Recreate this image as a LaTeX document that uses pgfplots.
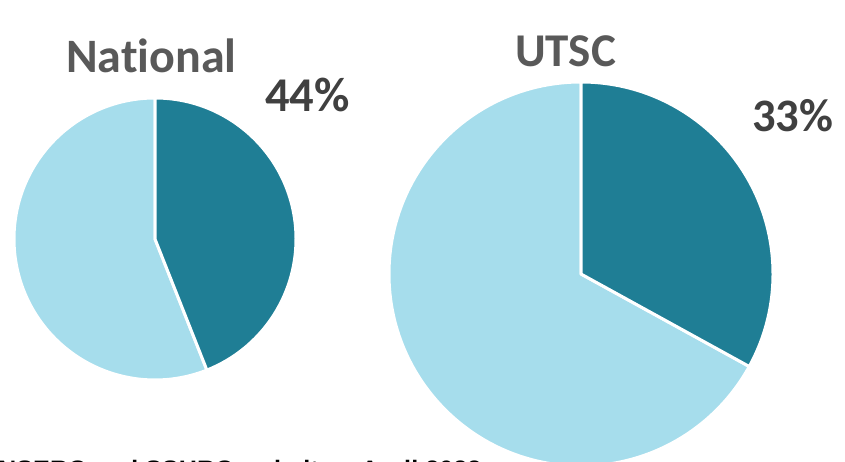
\documentclass[border=0pt]{standalone}
\usepackage{pgfplots}
\pgfplotsset{compat=1.18}
\usepackage{pgfplotstable}
\usepackage{fontspec}
\setmainfont{Carlito}[Ligatures=NoCommon]
\newfontfamily\arial{Liberation Sans}
\definecolor{tealdark}{HTML}{1F7E95}
\definecolor{lightblue}{HTML}{A6DDEC}
\definecolor{titlegray}{HTML}{595959}
\definecolor{pctgray}{HTML}{404040}

% share (%), centre x, centre y, radius (in picture units)
\pgfplotstableread{
name value cx cy r
National 44 155 223 141
UTSC 33 581 188 192
}\pies

\pgfplotstablegetelem{0}{value}\of\pies \let\vA\pgfplotsretval
\pgfplotstablegetelem{0}{cx}\of\pies \let\xA\pgfplotsretval
\pgfplotstablegetelem{0}{cy}\of\pies \let\yA\pgfplotsretval
\pgfplotstablegetelem{0}{r}\of\pies \let\rA\pgfplotsretval
\pgfplotstablegetelem{1}{value}\of\pies \let\vB\pgfplotsretval
\pgfplotstablegetelem{1}{cx}\of\pies \let\xB\pgfplotsretval
\pgfplotstablegetelem{1}{cy}\of\pies \let\yB\pgfplotsretval
\pgfplotstablegetelem{1}{r}\of\pies \let\rB\pgfplotsretval

\begin{document}
\begin{tikzpicture}
\begin{axis}[
  width=845bp, height=462bp, scale only axis,
  xmin=0, xmax=845, ymin=0, ymax=462,
  hide axis, clip=false,
]
% National pie
\filldraw[fill=lightblue, draw=white, line width=3bp, line join=round]
  (axis cs:\xA,\yA) -- ++(90:\rA bp) arc[start angle=90, end angle={90+360-3.6*\vA}, radius=\rA bp] -- cycle;
\filldraw[fill=tealdark, draw=white, line width=3bp, line join=round]
  (axis cs:\xA,\yA) -- ++(90:\rA bp) arc[start angle=90, end angle={90-3.6*\vA}, radius=\rA bp] -- cycle;
% UTSC pie
\filldraw[fill=lightblue, draw=white, line width=3bp, line join=round]
  (axis cs:\xB,\yB) -- ++(90:\rB bp) arc[start angle=90, end angle={90+360-3.6*\vB}, radius=\rB bp] -- cycle;
\filldraw[fill=tealdark, draw=white, line width=3bp, line join=round]
  (axis cs:\xB,\yB) -- ++(90:\rB bp) arc[start angle=90, end angle={90-3.6*\vB}, radius=\rB bp] -- cycle;

\node[anchor=base west, inner sep=0pt, text=titlegray, font=\fontsize{48bp}{52bp}\selectfont\bfseries] at (axis cs:66,389) {National};
\node[anchor=base west, inner sep=0pt, text=pctgray, font=\fontsize{48.5bp}{52bp}\selectfont\bfseries] at (axis cs:265,350) {44\%};
\node[anchor=base west, inner sep=0pt, text=titlegray, font=\fontsize{47bp}{52bp}\selectfont\bfseries] at (axis cs:515,395) {UTSC};
\node[anchor=base west, inner sep=0pt, text=pctgray, font=\fontsize{46.5bp}{52bp}\selectfont\bfseries] at (axis cs:752,330) {33\%};
\node[anchor=base west, inner sep=0pt, text=black, font=\fontsize{25.2bp}{30bp}\selectfont\arial\bfseries] at (axis cs:-2,-16) {NSERC and SSHRC websites, April 2022};
\end{axis}
\pgfresetboundingbox
\path[use as bounding box] (current axis.south west) rectangle (current axis.north east);
\end{tikzpicture}
\end{document}
